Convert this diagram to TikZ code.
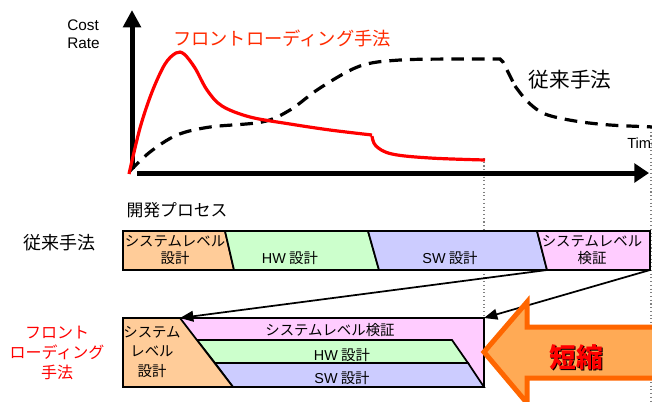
\documentclass[tikz,border=0pt]{standalone}
\usepackage{fontspec}
\setmainfont{Noto Sans CJK JP}
\newfontfamily\lat{Liberation Sans}
\usetikzlibrary{arrows.meta}
\definecolor{cOr}{HTML}{FFCC99}
\definecolor{cGr}{HTML}{CCFFCC}
\definecolor{cBl}{HTML}{CCCCFF}
\definecolor{cPk}{HTML}{FFCCFF}
\definecolor{cRed}{HTML}{FF0000}
\definecolor{cRedT}{HTML}{FF2A00}
\definecolor{bigFill}{HTML}{FFAA55}
\definecolor{bigLine}{HTML}{FF6600}
\tikzset{
  axis/.style={line width=3.75pt},
  seg/.style={draw=black, line width=1.3pt, line join=miter},
  lbl/.style={inner sep=0pt, align=center},
  boxtxt/.style={lbl, font=\fontsize{10.8}{12.75}\selectfont},
  guide/.style={draw=gray, line width=0.8pt, dotted},
  conn/.style={line width=1.3pt, -{Triangle[width=8pt,length=10pt]}},
}
\begin{document}
\begin{tikzpicture}[x=0.75pt,y=-0.75pt]
\useasboundingbox (0,0) rectangle (652,401);

% guide lines
\draw[guide] (484,158) -- (484,318);
\draw[guide] (651,128) -- (651,401);

% axes
\coordinate (o) at (132,169);
\coordinate (ytop) at (132,10);
\coordinate (xs) at (137,173);
\coordinate (xend) at (649,173);
\draw[axis, -{Triangle[width=13pt,length=13pt]}] (o) -- (ytop);
\draw[axis, -{Triangle[width=14pt,length=11pt]}] (xs) -- (xend);

\node[lbl, anchor=west, align=left, font=\lat\fontsize{11.5}{13.5}\selectfont] (cr) at (67,34) {Cost\\Rate};
\node[lbl, anchor=west, font=\lat\fontsize{11}{13}\selectfont] (time) at (627,143) {Time};

% conventional curve (dashed)
\draw[line width=2.4pt, dash pattern=on 9.5pt off 6pt] plot[smooth, tension=0.55] coordinates {
 (130,171) (150,152) (177,135) (210,127) (262,122) (290,110) (320,88) (360,66) (400,60) (460,59) (500,59)}
 -- (503,62) -- (515,86) plot[smooth, tension=0.55] coordinates {(515,86) (528,102) (545,114) (575,121) (610,125) (655,127)};

% front loading curve
\draw[cRed, line width=2.4pt] plot[smooth, tension=0.55] coordinates {
 (129,174) (140,128) (152,92) (165,64) (176,53) (184,54) (195,68) (207,90) (222,106) (250,117) (290,124) (330,130) (372,135)};
\draw[cRed, line width=2.4pt] plot[smooth, tension=0.6] coordinates {
 (372,136) (376,146) (392,154) (430,158) (485,160)};

\node[lbl, text=cRedT, font=\fontsize{13.7}{16}\selectfont] (fltop) at (282,38) {フロントローディング手法};
\node[lbl, font=\fontsize{15.5}{18}\selectfont] (convtop) at (570,80) {従来手法};

% section labels
\node[lbl, font=\fontsize{12.6}{15}\selectfont] (proc) at (177,210) {開発プロセス};
\node[lbl, font=\fontsize{13.5}{16}\selectfont] (conv) at (59,243) {従来手法};
\node[lbl, text=cRed, font=\fontsize{12}{15}\selectfont] (fl) at (57,353) {フロント\\ローディング\\手法};

% conventional row
\path[seg, fill=cOr] (123,231) -- (225,231) -- (234,270) -- (123,270) -- cycle;
\path[seg, fill=cGr] (225,231) -- (368,231) -- (379,270) -- (234,270) -- cycle;
\path[seg, fill=cBl] (368,231) -- (537,231) -- (547,270) -- (379,270) -- cycle;
\path[seg, fill=cPk] (537,231) -- (650,231) -- (650,270) -- (547,270) -- cycle;
\node[boxtxt] (c1) at (175,250) {システムレベル\\設計};
\node[boxtxt] (c2) at (290,258) {{\lat HW} 設計};
\node[boxtxt] (c3) at (450,258) {{\lat SW} 設計};
\node[boxtxt] (c4) at (592,250) {システムレベル\\検証};

% front-loading row
\path[seg, fill=cPk] (123,318) -- (484,318) -- (484,387) -- (123,387) -- cycle;
\path[seg, fill=cGr] (197,340) -- (452,340) -- (468,363) -- (215,363) -- cycle;
\path[seg, fill=cBl] (215,363) -- (468,363) -- (484,387) -- (233,387) -- cycle;
\path[seg, fill=cOr] (123,318) -- (180,318) -- (233,387) -- (123,387) -- cycle;
\node[boxtxt] (f1) at (152,352) {システム\\[2pt]レベル\\[2pt]設計};
\node[boxtxt] (f2) at (330,330) {システムレベル検証};
\node[boxtxt] (f3) at (342,355) {{\lat HW} 設計};
\node[boxtxt] (f4) at (342,378) {{\lat SW} 設計};

% connectors
\coordinate (a1s) at (547,270);
\coordinate (a1e) at (180,318);
\coordinate (a2s) at (650,270);
\coordinate (a2e) at (484,318);
\draw[conn] (a1s) -- (a1e);
\draw[conn] (a2s) -- (a2e);

% big arrow
\draw[line width=3.75pt, draw=bigLine, fill=bigFill, line join=miter]
  (484,352) -- (527,302) -- (527,327) -- (670,327) -- (670,378) -- (527,378) -- (527,403) -- cycle;
\node[lbl, text=black, font=\bfseries\fontsize{20}{24}\selectfont] at (577.5,358.5) {短縮};
\node[lbl, text=cRed, font=\bfseries\fontsize{20}{24}\selectfont] (short) at (576,357) {短縮};
\end{tikzpicture}
\end{document}
